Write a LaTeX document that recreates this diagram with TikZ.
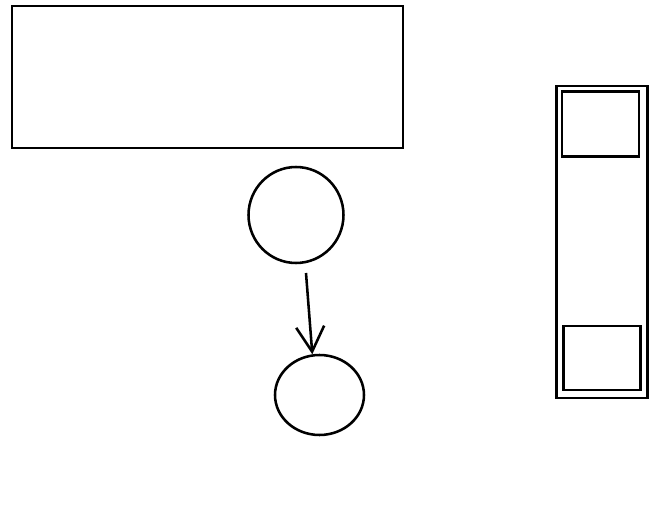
\documentclass[tikz,border=0pt]{standalone}
\usetikzlibrary{arrows.meta,shapes.geometric}

\begin{document}
\begin{tikzpicture}[x=0.02cm, y=-0.02cm, line width=1.45pt,
    box/.style={draw, rectangle, inner sep=0pt},
    blob/.style={draw, ellipse, inner sep=0pt}]
\useasboundingbox (0,0) rectangle (654,510);
%
             \node [box, minimum width=7.82cm, minimum height=2.84cm] at (207.5,77) (panel) {};
             \node [blob, minimum width=1.9cm, minimum height=1.92cm] at (296,215) (up) {};
             \node [blob, minimum width=1.78cm, minimum height=1.6cm] at (319.5,395) (down) {};
             \node [box, minimum width=1.81cm, minimum height=6.24cm] at (602,242) (rack) {};
             \node [box, minimum width=1.54cm, minimum height=1.29cm] at (600.5,124) (slot top) {};
             \node [box, minimum width=1.53cm, minimum height=1.28cm] at (602,358) (slot bot) {};
             \coordinate (start) at (306,273);
%
\draw[-{Straight Barb[length=0.5cm, width=0.56cm]}] (start) -- (down.100);
\end{tikzpicture}
\end{document}
